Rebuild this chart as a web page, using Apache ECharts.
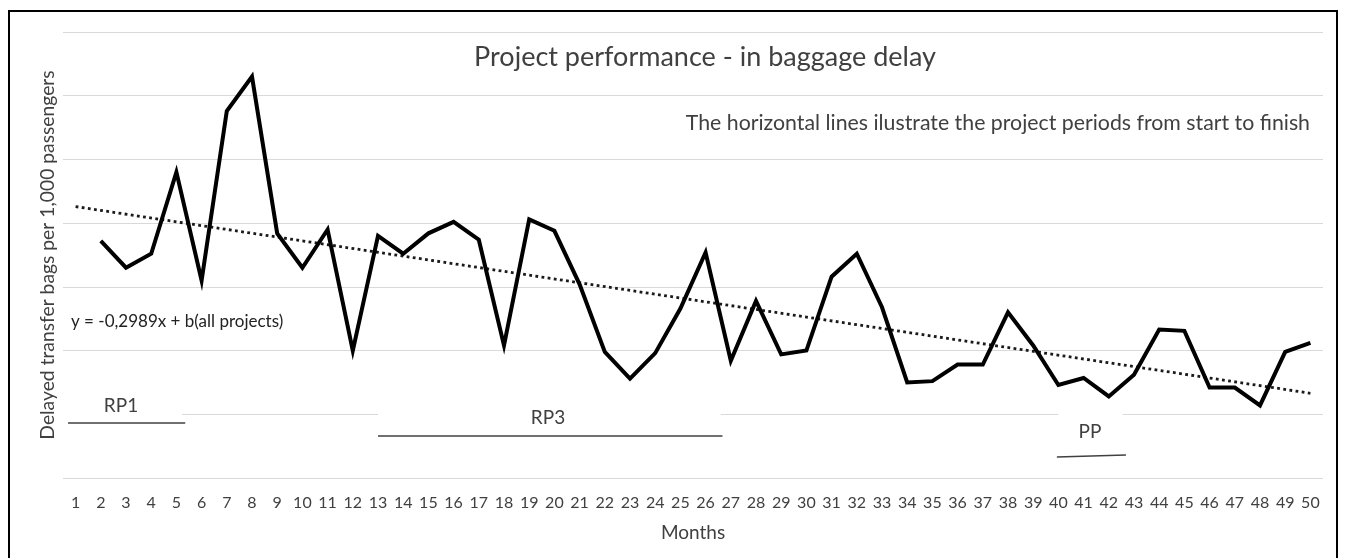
<!DOCTYPE html>
<html>
<head>
<meta charset="utf-8">
<script src="https://cdn.jsdelivr.net/npm/echarts@6/dist/echarts.min.js"></script>
<style>
  html, body { margin: 0; padding: 0; background: #fff; }
  #chart { width: 1346px; height: 558px; }
</style>
</head>
<body>
<div id="chart"></div>
<script>
const months = ['1','2','3','4','5','6','7','8','9','10','11','12','13','14','15','16','17','18','19','20',
  '21','22','23','24','25','26','27','28','29','30','31','32','33','34','35','36','37','38','39','40',
  '41','42','43','44','45','46','47','48','49','50']

// delayed transfer bags per 1,000 passengers, month 1 has no value
const delays = [null, 18.6, 16.5, 17.6, 24.0, 15.5, 28.8, 31.5, 19.2, 16.5,
  19.5, 10.0, 19.0, 17.6, 19.2, 20.1, 18.7, 10.4, 20.3, 19.4,
  15.2, 9.9, 7.8, 9.8, 13.3, 17.7, 9.2, 13.9, 9.7, 10.0,
  15.8, 17.6, 13.4, 7.5, 7.6, 8.9, 8.9, 13.0, 10.4, 7.3,
  7.85, 6.4, 8.1, 11.65, 11.55, 7.1, 7.1, 5.7, 9.9, 10.6]

// linear trend, end points [month, value]
const trend = [[1, 21.3], [50, 6.65]]

// project periods, start/end as [month, level]
const rp1 = [[0.7, 4.32], [5.35, 4.32]]
const rp3 = [[13.0, 3.3], [26.67, 3.3]]
const pp = [[39.94, 1.65], [42.68, 1.8]]

// label boxes that cover the gridline at 5
const labelBoxes = [[0.5, 5.23], [13.0, 26.6], [40.0, 42.55]]

const chart = echarts.init(document.getElementById('chart'))
const font = 'Lato, "Open Sans", sans-serif'
const textColor = '#404040'

const periodLine = {
  type: 'line',
  xAxisIndex: 1,
  symbol: 'none',
  silent: true,
  lineStyle: { color: '#404040', width: 1.5 },
  z: 3
}

chart.setOption({
  backgroundColor: '#fff',
  animation: false,
  textStyle: { fontFamily: font },
  grid: { left: 63, right: 23, top: 32, bottom: 80 },
  xAxis: [
    {
      type: 'category',
      data: months,
      boundaryGap: true,
      axisLine: { show: false },
      axisTick: { show: false },
      axisLabel: { color: textColor, fontSize: 16, margin: 17, interval: 0, fontFamily: font },
      name: 'Months',
      nameLocation: 'middle',
      nameGap: 45,
      nameTextStyle: { color: textColor, fontSize: 19, fontFamily: font }
    },
    { type: 'value', min: 0.5, max: 50.5, show: false }
  ],
  yAxis: {
    type: 'value',
    min: 0,
    max: 35,
    interval: 5,
    axisLabel: { show: false },
    axisLine: { show: false },
    axisTick: { show: false },
    splitLine: { lineStyle: { color: '#d9d9d9', width: 1 } },
    name: 'Delayed transfer bags per 1,000 passengers',
    nameLocation: 'middle',
    nameGap: 6,
    nameTextStyle: { color: textColor, fontSize: 19.3, fontFamily: font }
  },
  series: [
    {
      type: 'line',
      xAxisIndex: 1,
      data: [],
      silent: true,
      markArea: {
        silent: true,
        itemStyle: { color: '#fff' },
        data: labelBoxes.map(b => [{ coord: [b[0], 4.75] }, { coord: [b[1], 5.25] }])
      },
      z: 1
    },
    Object.assign({}, periodLine, { data: rp1 }),
    Object.assign({}, periodLine, { data: rp3 }),
    Object.assign({}, periodLine, { data: pp }),
    {
      type: 'line',
      xAxisIndex: 1,
      data: trend,
      symbol: 'none',
      lineStyle: { color: '#1a1a1a', width: 2.8, type: [2.8, 3.4] },
      z: 4
    },
    {
      type: 'line',
      data: delays,
      symbol: 'none',
      lineStyle: { color: '#000', width: 4, join: 'miter', cap: 'butt' },
      z: 5
    }
  ],
  graphic: [
    {
      type: 'rect',
      shape: { x: 9, y: 11, width: 1328, height: 600 },
      style: { fill: null, stroke: '#000', lineWidth: 2 },
      silent: true
    },
    {
      type: 'text', x: 705, y: 57, z: 100,
      style: { text: 'Project performance - in baggage delay', font: '27px ' + font, fill: textColor, textAlign: 'center', textVerticalAlign: 'middle' }
    },
    {
      type: 'text', x: 1310, y: 123, z: 100,
      style: { text: 'The horizontal lines ilustrate the project periods from start to finish', font: '21.3px ' + font, fill: textColor, textAlign: 'right', textVerticalAlign: 'middle' }
    },
    {
      type: 'text', x: 71, y: 322, z: 100,
      style: { text: 'y = -0,2989x + b(all projects)', font: '17px ' + font, fill: '#222', textAlign: 'left', textVerticalAlign: 'middle' }
    },
    {
      type: 'text', x: 121, y: 406, z: 100,
      style: { text: 'RP1', font: '19px ' + font, fill: textColor, textAlign: 'center', textVerticalAlign: 'middle' }
    },
    {
      type: 'text', x: 548, y: 418, z: 100,
      style: { text: 'RP3', font: '19px ' + font, fill: textColor, textAlign: 'center', textVerticalAlign: 'middle' }
    },
    {
      type: 'text', x: 1090, y: 432, z: 100,
      style: { text: 'PP', font: '19px ' + font, fill: textColor, textAlign: 'center', textVerticalAlign: 'middle' }
    }
  ]
})
</script>
</body>
</html>
